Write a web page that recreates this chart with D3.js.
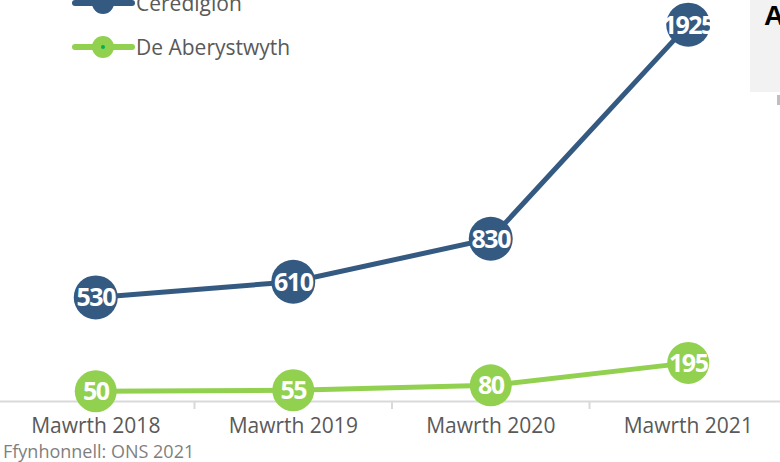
<!DOCTYPE html>
<html>
<head>
<meta charset="utf-8">
<script src="https://cdn.jsdelivr.net/npm/d3@7"></script>
<style>
  body { margin: 0; background: #fff; }
  text { font-family: "Open Sans", sans-serif; }
</style>
</head>
<body>
<div id="chart"></div>
<script>
// data
var categories = ["Mawrth 2018", "Mawrth 2019", "Mawrth 2020", "Mawrth 2021"];
var seriesNames = ["Ceredigion", "De Aberystwyth"];
var ceredigion = [530, 610, 830, 1925];
var deAberystwyth = [50, 55, 80, 195];
var sourceNote = "Ffynhonnell: ONS 2021";

var w = 780, h = 462;
var colors = ["#355a82", "#92d050"];

var svg = d3.select("#chart").append("svg")
  .attr("width", w)
  .attr("height", h);

var x = d3.scaleBand().domain(categories).range([-3, 787]);
var y = d3.scaleLinear().domain([0, 2000]).range([401, 10]);

// side panel cut off at the right
svg.append("rect").attr("x", 750).attr("y", 0).attr("width", 30).attr("height", 92).attr("fill", "#f2f2f2");
svg.append("text").attr("x", 764).attr("y", 25).attr("font-size", 28).attr("font-weight", "bold")
  .attr("fill", "#000").style("font-family", "Liberation Sans, Arial, sans-serif").text("A");
svg.append("rect").attr("x", 777).attr("y", 95).attr("width", 3).attr("height", 10).attr("fill", "#bfbfbf");

// x axis
var xAxis = svg.append("g").attr("transform", "translate(0,401)")
  .call(d3.axisBottom(x).tickSize(0).tickPadding(17));
xAxis.select(".domain").attr("stroke", "#d9d9d9").attr("stroke-width", 2);
xAxis.selectAll("text").attr("font-size", 21).attr("fill", "#595959")
  .style("font-family", "'Open Sans', sans-serif");
// ticks between categories
xAxis.selectAll(".sep").data(categories.slice(1)).enter().append("line")
  .attr("class", "sep")
  .attr("x1", function(d) { return x(d); }).attr("x2", function(d) { return x(d); })
  .attr("y1", 0).attr("y2", 8)
  .attr("stroke", "#d9d9d9").attr("stroke-width", 2);

var series = [ceredigion, deAberystwyth];
var line = d3.line()
  .x(function(d, i) { return x(categories[i]) + x.bandwidth() / 2; })
  .y(function(d) { return y(d); });

series.forEach(function(vals, s) {
  var g = svg.append("g");
  g.append("path").datum(vals)
    .attr("d", line)
    .attr("fill", "none")
    .attr("stroke", colors[s])
    .attr("stroke-width", 5);
  var pts = g.selectAll("g.pt").data(vals).enter().append("g")
    .attr("transform", function(d, i) {
      return "translate(" + (x(categories[i]) + x.bandwidth() / 2) + "," + y(d) + ")";
    });
  pts.append("circle").attr("r", s == 0 ? 22 : 21).attr("fill", colors[s]);
  pts.append("text")
    .attr("text-anchor", "middle")
    .attr("dy", "0.36em")
    .attr("font-size", 25)
    .attr("font-weight", "bold")
    .attr("letter-spacing", -1.5)
    .attr("fill", "#fff")
    .text(function(d) { return d; });
});

// legend
var legend = svg.append("g").attr("transform", "translate(75,3)");
seriesNames.forEach(function(name, i) {
  var lg = legend.append("g").attr("transform", "translate(0," + (i * 44) + ")");
  lg.append("line").attr("x1", 0).attr("x2", 57).attr("y1", 0).attr("y2", 0)
    .attr("stroke", colors[i]).attr("stroke-width", 6).attr("stroke-linecap", "round");
  lg.append("circle").attr("cx", 28).attr("r", 11).attr("fill", colors[i]);
  if (i == 1) lg.append("circle").attr("cx", 28).attr("r", 2).attr("fill", "#00b050");
  lg.append("text").attr("x", 61).attr("dy", "0.36em")
    .attr("font-size", 21).attr("fill", "#595959").text(name);
});

svg.append("text").attr("x", 3).attr("y", 458)
  .attr("font-size", 18).attr("fill", "#7f7f7f").text(sourceNote);
</script>
</body>
</html>
